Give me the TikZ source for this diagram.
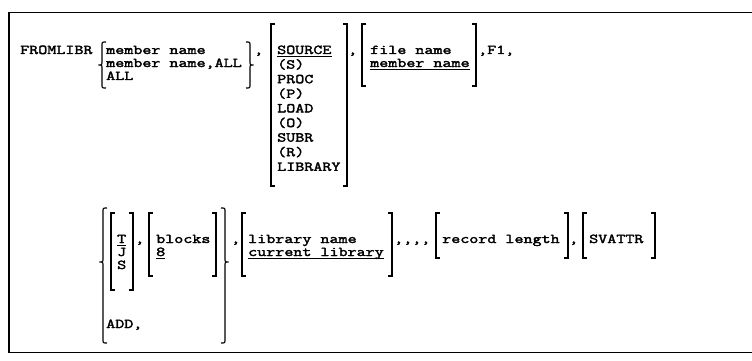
\documentclass[tikz,border=0pt]{standalone}
\usepackage{fontspec}
\newfontfamily\tw{Latin Modern Mono}[FakeStretch=1.3, FakeBold=2.5]
\tikzset{
  txt/.style={anchor=base west, inner sep=0pt, font=\tw\fontsize{13.5}{14}\selectfont},
  brk/.style={line width=1.15pt},
  frame/.style={line width=1.4pt},
  ul/.style={line width=0.9pt}
}
\newcommand\LBk[3]{\draw[brk] ({#1+4},#2) -- (#1,#2) -- (#1,#3) -- ({#1+4},#3);}
\newcommand\RBk[3]{\draw[brk] ({#1-4},#2) -- (#1,#2) -- (#1,#3) -- ({#1-4},#3);}
% x, top, cusp, bottom
\newcommand\LBrc[4]{\draw[brk] ({#1+4},#2) .. controls (#1,#2) .. (#1,{#2+4}) -- (#1,{#3-4}) .. controls (#1,#3) .. ({#1-3.5},#3) .. controls (#1,#3) .. (#1,{#3+4}) -- (#1,{#4-4}) .. controls (#1,#4) .. ({#1+4},#4);}
\newcommand\RBrc[4]{\draw[brk] ({#1-4},#2) .. controls (#1,#2) .. (#1,{#2+4}) -- (#1,{#3-4}) .. controls (#1,#3) .. ({#1+3.5},#3) .. controls (#1,#3) .. (#1,{#3+4}) -- (#1,{#4-4}) .. controls (#1,#4) .. ({#1-4},#4);}
\newcommand\UL[1]{\draw[ul] ([yshift=-2.5pt]#1.base west) -- ([yshift=-2.5pt]#1.base east);}
\begin{document}
\begin{tikzpicture}[x=1pt,y=-1pt]
\useasboundingbox (0,0) rectangle (752,361);
% frame (open at right)
\draw[frame] (752,12.5) -- (9,12.5) -- (9,352.5) -- (752,352.5);

% ---------- row 1 ----------
\node[txt] (cmd) at (20,54) {FROMLIBR};
\LBrc{102}{42}{65}{88}
\node[txt] (m1) at (106,54) {member name};
\node[txt] (m2) at (106,67) {member name,ALL};
\node[txt] (m3) at (106,80) {ALL};
\RBrc{250}{42}{65}{88}
\node[txt] (c1) at (254,54) {,};

\LBk{271}{24}{186}
\node[txt] (s1) at (277,54) {SOURCE}; \UL{s1}
\node[txt] (s2) at (277,68.6) {(S)};
\node[txt] (s3) at (277,83.2) {PROC};
\node[txt] (s4) at (277,97.8) {(P)};
\node[txt] (s5) at (277,112.4) {LOAD};
\node[txt] (s6) at (277,127) {(O)};
\node[txt] (s7) at (277,141.6) {SUBR};
\node[txt] (s8) at (277,156.2) {(R)};
\node[txt] (s9) at (277,170.8) {LIBRARY};
\RBk{347}{24}{186}
\node[txt] (c2) at (348,54) {,};

\LBk{362}{24}{86}
\node[txt] (f1) at (370,54) {file name};
\node[txt] (f2) at (370,67) {member name}; \UL{f2}
\RBk{476}{24}{86}
\node[txt] (f3) at (478,54) {,F1,};

% ---------- row 2 ----------
\LBrc{103}{208}{262}{343}
\LBk{111}{213}{290}
\node[txt] (t1) at (117,243) {T}; \UL{t1}
\node[txt] (t2) at (117,256) {J};
\node[txt] (t3) at (117,269) {S};
\RBk{133}{213}{290}
\node[txt] (c3) at (135,243) {,};
\LBk{149}{213}{276}
\node[txt] (b1) at (156,243) {blocks};
\node[txt] (b2) at (156,256) {8}; \UL{b2}
\RBk{216}{213}{276}
\node[txt] (add) at (106,328) {ADD,};
\RBrc{225}{208}{262}{343}
\node[txt] (c4) at (231,243) {,};

\LBk{242}{213}{276}
\node[txt] (l1) at (248,243) {library name};
\node[txt] (l2) at (248,256) {current library}; \UL{l2}
\RBk{392}{213}{276}
\node[txt] (c5) at (394,243) {,,,,};

\LBk{436}{213}{258}
\node[txt] (r1) at (442,243) {record length};
\RBk{568}{213}{258}
\node[txt] (c6) at (569,243) {,};
\LBk{583}{213}{258}
\node[txt] (v1) at (589,243) {SVATTR};
\RBk{655}{213}{258}
\end{tikzpicture}
\end{document}
